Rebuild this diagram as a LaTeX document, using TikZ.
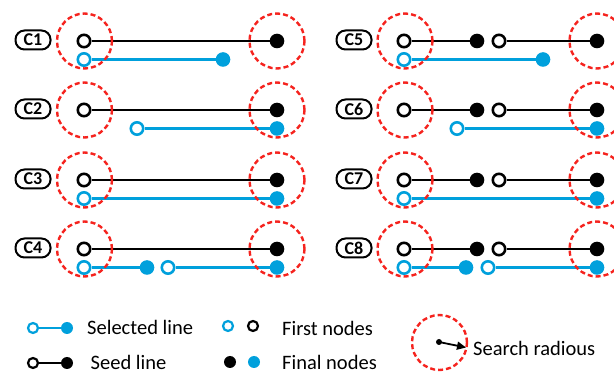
\documentclass[tikz,border=0pt]{standalone}
\usepackage{fontspec}
\setmainfont{Carlito}
\usetikzlibrary{arrows.meta}
\definecolor{cblue}{RGB}{0,160,220}
\definecolor{cred}{RGB}{245,35,30}
\begin{document}
\begin{tikzpicture}[x=1pt,y=-1pt,
  opn/.style={circle,draw=#1,fill=white,line width=2.6pt,minimum size=12.4pt,inner sep=0pt},
  fil/.style={circle,fill=#1,minimum size=14.6pt,inner sep=0pt},
  lopn/.style={circle,draw=#1,fill=white,line width=2.2pt,minimum size=10pt,inner sep=0pt},
  lfil/.style={circle,fill=#1,minimum size=12pt,inner sep=0pt},
  seedln/.style={line width=2.2pt,black},
  selln/.style={line width=2.6pt,cblue},
  srch/.style={circle,draw=cred,dash pattern=on 5pt off 3pt,line width=2.4pt,minimum size=55pt,inner sep=0pt},
  lab/.style={draw,line width=2pt,rounded corners=9pt,minimum width=35pt,minimum height=19pt,inner sep=0pt,font=\fontsize{18}{20}\selectfont\bfseries},
  legtxt/.style={anchor=west,inner sep=0pt,font=\fontsize{20.5}{24}\selectfont}]
\useasboundingbox (0,0) rectangle (614,374);
\clip (0,0) rectangle (614,374);
% labels
\node[lab] (l1) at (33,40) {C1};
\node[lab] (l2) at (33,109) {C2};
\node[lab] (l3) at (33,179) {C3};
\node[lab] (l4) at (33,248) {C4};
\node[lab] (l5) at (354,40) {C5};
\node[lab] (l6) at (354,109) {C6};
\node[lab] (l7) at (354,179) {C7};
\node[lab] (l8) at (354,248) {C8};
% ---- C1
\node[opn=black] (a1s) at (84,41) {};
\node[fil=black] (a1e) at (277,41) {};
\node[opn=cblue] (b1s) at (84,59.5) {};
\node[fil=cblue] (b1e) at (223,59.5) {};
% ---- C2
\node[opn=black] (a2s) at (84,110) {};
\node[fil=black] (a2e) at (277,110) {};
\node[opn=cblue] (b2s) at (137,128.5) {};
\node[fil=cblue] (b2e) at (277,128.5) {};
% ---- C3
\node[opn=black] (a3s) at (84,180) {};
\node[fil=black] (a3e) at (277,180) {};
\node[opn=cblue] (b3s) at (84,198.5) {};
\node[fil=cblue] (b3e) at (277,198.5) {};
% ---- C4
\node[opn=black] (a4s) at (84,249) {};
\node[fil=black] (a4e) at (277,249) {};
\node[opn=cblue] (b4s) at (84,267.5) {};
\node[fil=cblue] (b4e) at (147,267.5) {};
\node[opn=cblue] (b4t) at (168,267.5) {};
\node[fil=cblue] (b4f) at (277,267.5) {};
% ---- C5
\node[opn=black] (a5s) at (404,41) {};
\node[fil=black] (a5e) at (477,41) {};
\node[opn=black] (a5t) at (499,41) {};
\node[fil=black] (a5f) at (597,41) {};
\node[opn=cblue] (b5s) at (404,59.5) {};
\node[fil=cblue] (b5e) at (543,59.5) {};
% ---- C6
\node[opn=black] (a6s) at (404,110) {};
\node[fil=black] (a6e) at (477,110) {};
\node[opn=black] (a6t) at (499,110) {};
\node[fil=black] (a6f) at (597,110) {};
\node[opn=cblue] (b6s) at (457,128.5) {};
\node[fil=cblue] (b6e) at (597,128.5) {};
% ---- C7
\node[opn=black] (a7s) at (404,180) {};
\node[fil=black] (a7e) at (477,180) {};
\node[opn=black] (a7t) at (499,180) {};
\node[fil=black] (a7f) at (597,180) {};
\node[opn=cblue] (b7s) at (404,198.5) {};
\node[fil=cblue] (b7e) at (597,198.5) {};
% ---- C8
\node[opn=black] (a8s) at (404,249) {};
\node[fil=black] (a8e) at (477,249) {};
\node[opn=black] (a8t) at (499,249) {};
\node[fil=black] (a8f) at (597,249) {};
\node[opn=cblue] (b8s) at (404,267.5) {};
\node[fil=cblue] (b8e) at (466,267.5) {};
\node[opn=cblue] (b8t) at (488,267.5) {};
\node[fil=cblue] (b8f) at (597,267.5) {};
% lines
\draw[seedln] (a1s) -- (a1e);
\draw[selln] (b1s) -- (b1e);
\draw[seedln] (a2s) -- (a2e);
\draw[selln] (b2s) -- (b2e);
\draw[seedln] (a3s) -- (a3e);
\draw[selln] (b3s) -- (b3e);
\draw[seedln] (a4s) -- (a4e);
\draw[selln] (b4s) -- (b4e);
\draw[selln] (b4t) -- (b4f);
\draw[seedln] (a5s) -- (a5e);
\draw[seedln] (a5t) -- (a5f);
\draw[selln] (b5s) -- (b5e);
\draw[seedln] (a6s) -- (a6e);
\draw[seedln] (a6t) -- (a6f);
\draw[selln] (b6s) -- (b6e);
\draw[seedln] (a7s) -- (a7e);
\draw[seedln] (a7t) -- (a7f);
\draw[selln] (b7s) -- (b7e);
\draw[seedln] (a8s) -- (a8e);
\draw[seedln] (a8t) -- (a8f);
\draw[selln] (b8s) -- (b8e);
\draw[selln] (b8t) -- (b8f);
% search circles
\node[srch] (r1a) at (84.5,41) {};
\node[srch] (r1b) at (277,41) {};
\node[srch] (r2a) at (84.5,110) {};
\node[srch] (r2b) at (277,110) {};
\node[srch] (r3a) at (84.5,180) {};
\node[srch] (r3b) at (277,180) {};
\node[srch] (r4a) at (84.5,249) {};
\node[srch] (r4b) at (277,249) {};
\node[srch] (r5a) at (405,41) {};
\node[srch] (r5b) at (597,41) {};
\node[srch] (r6a) at (405,110) {};
\node[srch] (r6b) at (597,110) {};
\node[srch] (r7a) at (405,180) {};
\node[srch] (r7b) at (597,180) {};
\node[srch] (r8a) at (405,249) {};
\node[srch] (r8b) at (597,249) {};
% legend
\node[lopn=cblue] (g1a) at (33,328) {};
\node[lfil=cblue] (g1b) at (67,328) {};
\draw[line width=2.2pt,cblue] (g1a) -- (g1b);
\node[legtxt] (t1) at (87,327.5) {Selected line};
\node[lopn=black] (g2a) at (33,363) {};
\node[lfil=black] (g2b) at (67,363) {};
\draw[line width=2.2pt,black] (g2a) -- (g2b);
\node[legtxt] (t2) at (90.5,362) {Seed line};
\node[lopn=cblue] (g3a) at (228,326) {};
\node[lopn=black] (g3b) at (253,326) {};
\node[legtxt] (t3) at (282,328.5) {First nodes};
\node[lfil=black] (g4a) at (230,362) {};
\node[lfil=cblue] (g4b) at (254,362) {};
\node[legtxt] (t4) at (282,362.5) {Final nodes};
\node[srch] (g5) at (439.5,342.5) {};
\node[circle,fill=black,minimum size=6pt,inner sep=0pt] (g5d) at (439,342) {};
\coordinate (g5t) at (466,347.5);
\draw[line width=1.8pt,-{Triangle[length=9pt,width=8pt]}] (g5d.center) -- (g5t);
\node[legtxt] (t5) at (473,348.5) {Search radious};
\end{tikzpicture}
\end{document}
